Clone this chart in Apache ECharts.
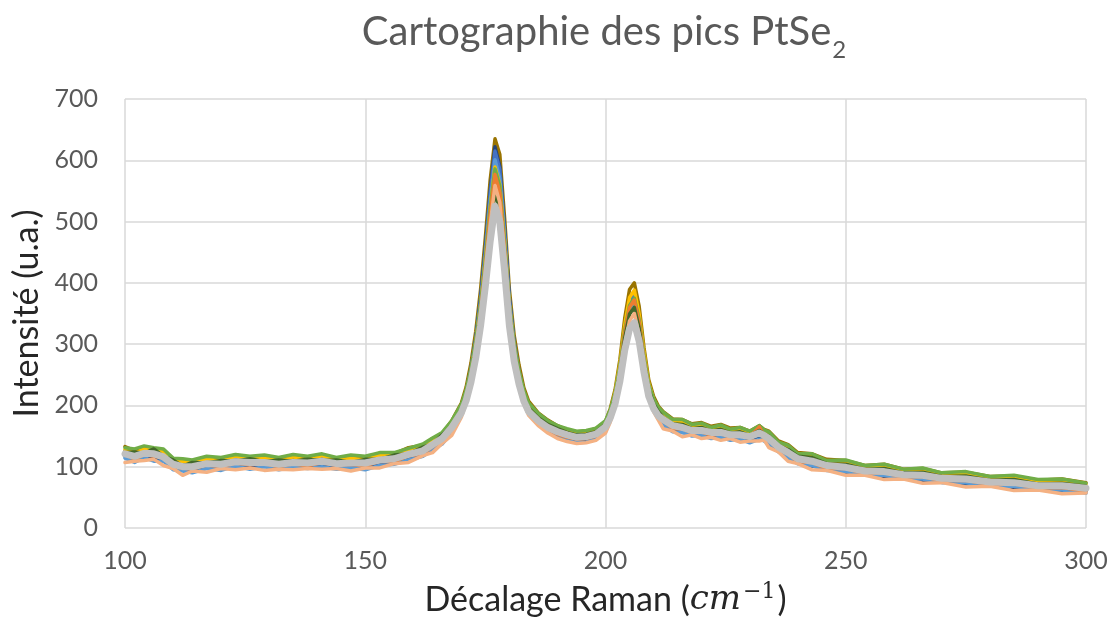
<!DOCTYPE html>
<html>
<head>
<meta charset="utf-8">
<script src="https://cdn.jsdelivr.net/npm/echarts@6/dist/echarts.min.js"></script>
<style>
  html, body { margin: 0; padding: 0; background: #ffffff; }
  #chart { width: 1108px; height: 622px; }
</style>
</head>
<body>
<div id="chart"></div>
<script>
// Raman shift sampling (cm^-1), shared by every spectrum
const shift = [100,102,104,106,108,110,112,114,117,120,123,126,129,132,135,138,141,144,147,150,153,156,159,162,164,166,168,
  170,171,172,173,174,175,176,177,178,179,180,181,182,183,184,186,188,190,192,194,196,198,200,
  201,202,203,204,205,206,207,208,209,210,211,
  212,214,216,218,220,222,224,226,228,230,232,233,234,236,238,240,243,246,250,254,258,262,266,270,275,280,285,290,295,300];

// Intensity of each mapped point (a.u.)
const spotOlive = [133,126,131,128,127,113,111,108,116,113,119,114,118,112,118,115,119,113,117,114,122,121,131,135,146,154,175,
  204,230,269,321,389,474,568,635,610,506,389,314,266,229,207,188,176,167,160,157,158,162,174,
  195,226,275,342,389,400,362,295,242,215,199,
  190,178,177,170,172,166,169,163,164,158,167,161,158,142,136,123,121,112,110,102,104,96,97,90,91,84,85,78,80,74];
const spotNavy = [117,110,118,113,112,98,95,93,100,97,103,99,102,97,103,98,104,98,101,99,106,106,115,120,131,141,159,
  191,216,255,306,373,456,549,622,590,488,373,298,251,215,193,172,159,151,146,141,143,147,160,
  181,211,260,325,371,384,345,279,227,201,185,
  170,163,156,155,151,152,148,148,144,145,147,147,138,128,114,109,101,98,91,90,84,84,78,78,72,72,66,66,61,61];
const spotBlue = [126,120,127,123,121,106,105,103,110,107,113,109,112,107,112,109,114,108,111,108,116,116,124,129,141,149,168,
  198,223,260,309,374,454,545,615,585,485,374,302,256,221,200,180,168,161,155,152,152,157,169,
  188,216,262,324,368,380,343,281,231,206,192,
  183,170,170,163,165,159,162,155,158,152,160,155,150,135,128,116,114,105,104,97,97,91,91,85,85,79,79,73,73,68];
const spotSky = [114,107,115,109,109,95,93,90,97,94,101,96,100,95,99,97,100,96,98,95,102,104,111,117,128,137,156,
  186,211,248,297,361,441,531,601,570,472,361,290,244,210,189,170,156,149,143,139,140,145,157,
  177,206,252,315,358,370,333,271,221,196,181,
  168,157,156,150,151,146,148,143,145,139,145,142,137,124,115,105,102,94,92,86,86,80,80,74,74,68,68,62,62,57];
const spotGold = [128,122,129,126,124,108,109,105,113,109,117,111,115,109,116,110,118,110,114,111,119,118,127,132,143,152,171,
  198,222,256,303,363,439,523,589,560,468,363,296,253,221,201,183,171,163,158,154,156,159,171,
  191,221,268,331,376,388,350,287,236,210,195,
  185,173,172,165,167,161,164,158,161,154,165,158,153,138,130,118,117,107,107,99,100,93,94,87,88,81,82,75,76,70];
const spotGreen = [131,129,134,131,129,114,113,111,117,115,120,117,119,115,120,117,121,115,119,117,123,123,130,137,147,156,175,
  202,225,259,305,364,438,521,586,558,466,364,298,256,224,204,187,175,167,162,158,159,163,175,
  193,220,264,322,363,375,340,281,234,211,197,
  189,177,177,169,171,164,168,161,164,158,167,160,157,140,135,121,121,110,111,102,104,96,98,90,92,84,86,79,80,73];
const spotOrange = [121,112,120,117,114,100,98,96,103,100,106,103,105,100,105,101,107,102,104,101,109,108,118,121,133,142,161,
  189,212,247,293,353,427,511,577,548,456,353,286,243,211,192,172,160,153,148,145,146,150,162,
  182,210,255,317,360,372,335,274,225,200,185,
  175,162,162,155,157,151,154,148,150,148,165,151,144,127,121,108,107,97,97,89,90,83,84,77,78,71,72,65,66,60];
const spotForest = [123,124,122,129,117,111,101,107,106,110,109,113,108,111,109,112,110,111,107,112,112,119,121,132,137,152,165,
  193,214,246,288,343,411,487,547,521,437,343,282,243,213,196,180,169,162,156,152,153,157,169,
  186,212,254,310,349,360,326,270,226,203,190,
  181,170,169,162,164,158,161,155,157,151,159,154,150,135,128,117,115,105,104,96,97,90,91,84,85,78,79,72,73,68];
const spotPeach = [107,109,110,112,102,97,86,93,91,97,95,98,94,96,95,97,96,97,93,98,98,105,107,118,123,138,151,
  181,204,237,282,340,413,495,559,531,441,340,275,234,203,184,167,155,146,141,138,139,143,155,
  173,199,241,298,338,350,315,258,213,190,176,
  162,158,149,152,146,148,143,146,140,142,142,144,131,124,109,105,95,94,86,86,79,80,73,74,67,68,61,62,56,57];
const spotGray = [121,117,122,121,116,104,100,100,105,104,108,107,107,104,107,106,109,105,106,106,111,113,120,126,136,146,164,
  188,208,238,278,330,395,468,525,500,420,330,272,235,207,190,175,164,157,152,148,149,153,165,
  180,203,240,290,325,335,305,255,215,195,183,
  177,167,164,159,159,156,156,152,152,149,155,151,146,132,123,113,109,102,99,93,92,87,86,81,80,75,74,69,69,65];

// Spectra in drawing order (last one ends up on top)
const spectra = [
  { name: 'Point 1', values: spotOlive, color: '#997300', width: 3.5 },
  { name: 'Point 2', values: spotNavy, color: '#264478', width: 3.5 },
  { name: 'Point 3', values: spotBlue, color: '#4472C4', width: 3.5 },
  { name: 'Point 4', values: spotSky, color: '#5B9BD5', width: 3.5 },
  { name: 'Point 5', values: spotGold, color: '#FFC000', width: 3.5 },
  { name: 'Point 6', values: spotGreen, color: '#70AD47', width: 3.5 },
  { name: 'Point 7', values: spotOrange, color: '#ED7D31', width: 3.5 },
  { name: 'Point 8', values: spotForest, color: '#43682B', width: 3.5 },
  { name: 'Point 9', values: spotPeach, color: '#F4B183', width: 3.5 },
  { name: 'Point 10', values: spotGray, color: '#BFBFBF', width: 7 }
];

const chart = echarts.init(document.getElementById('chart'), null, { renderer: 'canvas' });

const FONT = 'Lato, "Open Sans", sans-serif';
const gridLine = { lineStyle: { color: '#D9D9D9', width: 1.5 } };

chart.setOption({
  animation: false,
  backgroundColor: '#ffffff',
  graphic: [{
    type: 'text',
    x: 604,
    y: 40,
    style: {
      text: '{t|Cartographie des pics PtSe}{s|2}',
      align: 'center',
      verticalAlign: 'middle',
      rich: {
        t: { fontFamily: FONT, fontSize: 40, fill: '#595959', lineHeight: 44, verticalAlign: 'bottom', padding: [0, 0, 10, 0] },
        s: { fontFamily: FONT, fontSize: 24, fill: '#595959', lineHeight: 26, verticalAlign: 'bottom', padding: [0, 0, 0, 1] }
      }
    }
  }],
  grid: { left: 125, right: 22, top: 99, bottom: 94, containLabel: false, outerBoundsMode: 'none' },
  xAxis: {
    type: 'value',
    min: 100, max: 300, interval: 50,
    name: '{a|Décalage Raman (}{m|cm}{p|−1}{a|)}',
    nameLocation: 'middle',
    nameGap: 53,
    nameTextStyle: {
      rich: {
        a: { fontFamily: FONT, fontSize: 34, color: '#262626' },
        m: { fontFamily: '"DejaVu Serif", serif', fontStyle: 'italic', fontSize: 34, color: '#262626' },
        p: { fontFamily: '"DejaVu Serif", serif', fontSize: 22, color: '#262626', verticalAlign: 'top', padding: [0, 2, 16, 2] }
      }
    },
    axisLine: { show: false },
    axisTick: { show: false },
    axisLabel: { fontFamily: FONT, fontSize: 25, color: '#595959', margin: 20 },
    splitLine: { show: true, ...gridLine }
  },
  yAxis: {
    type: 'value',
    min: 0, max: 700, interval: 100,
    name: 'Intensité (u.a.)',
    nameLocation: 'middle',
    nameGap: 78,
    nameTextStyle: { fontFamily: FONT, fontSize: 34, color: '#262626' },
    axisLine: { show: false },
    axisTick: { show: false },
    axisLabel: { fontFamily: FONT, fontSize: 25, color: '#595959', margin: 27 },
    splitLine: { show: true, ...gridLine }
  },
  series: spectra.map(s => ({
    type: 'line',
    name: s.name,
    data: shift.map((x, i) => [x, s.values[i]]),
    showSymbol: false,
    smooth: false,
    lineStyle: { color: s.color, width: s.width, join: 'round', cap: 'round' },
    itemStyle: { color: s.color },
    emphasis: { disabled: true }
  }))
});
</script>
</body>
</html>
